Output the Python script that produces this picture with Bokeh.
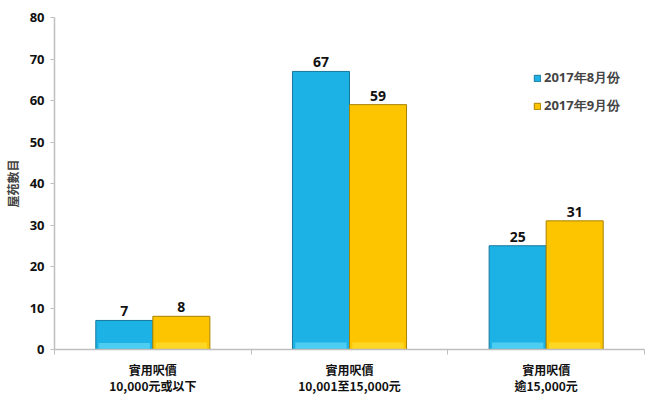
from bokeh.plotting import figure
from bokeh.models import ColumnDataSource, Range1d, FixedTicker, Legend, LegendItem, LabelSet
from bokeh.core.properties import value
from bokeh.embed import file_html
from bokeh.resources import INLINE

categories = ["實用呎價\n10,000元或以下", "實用呎價\n10,001至15,000元", "實用呎價\n逾15,000元"]
series_names = ["2017年8月份", "2017年9月份"]
aug_values = [7, 67, 25]
sep_values = [8, 59, 31]
y_ticks = [0, 10, 20, 30, 40, 50, 60, 70, 80]
y_label = "屋苑數目"

colors = ["#1cb2e6", "#fcc500"]
light = ["#5fd6f6", "#ffdc30"]
edge = ["#17789c", "#a88300"]

p = figure(width=647, height=406, output_backend="svg", toolbar_location=None,
           x_range=Range1d(0, 3), y_range=Range1d(0, 80),
           min_border_left=52, min_border_right=3, min_border_top=17, min_border_bottom=57)
p.outline_line_color = None
p.xgrid.visible = False
p.ygrid.visible = False
p.background_fill_color = "white"

centers = [i + 0.5 for i in range(len(categories))]
offsets = [-0.145, 0.145]
width = 0.29
renderers = []
for k, vals in enumerate([aug_values, sep_values]):
    xs = [c + offsets[k] for c in centers]
    src = ColumnDataSource(dict(x=xs, top=vals, lab=[str(v) for v in vals],
                                lt=[min(1.7, v * 0.22) for v in vals]))
    r = p.vbar(x="x", top="top", width=width, source=src, fill_color=colors[k],
               line_color=edge[k], line_width=1)
    renderers.append(r)
    p.vbar(x="x", top="lt", bottom=0.2, width=width * 0.9, source=src,
           fill_color=light[k], line_color=None, fill_alpha=0.75)
    labels = LabelSet(x="x", y="top", text="lab", source=src, text_align="center",
                      text_baseline="bottom", y_offset=4, text_font=value("Open Sans"),
                      text_font_style="bold", text_font_size="14px", text_color="#111111")
    p.add_layout(labels)

legend = Legend(items=[LegendItem(label=series_names[i], renderers=[renderers[i]]) for i in range(2)],
                location=(479, 234), border_line_color=None, background_fill_alpha=0,
                label_text_font="Open Sans", label_text_font_style="bold", label_text_font_size="13px",
                glyph_width=8, glyph_height=8, spacing=9, label_standoff=3, padding=4)
p.add_layout(legend)

xa = p.xaxis[0]
xa.ticker = FixedTicker(ticks=centers, minor_ticks=[0, 1, 2, 3])
xa.major_label_overrides = {c: categories[i] for i, c in enumerate(centers)}
xa.major_tick_line_color = None
xa.minor_tick_line_color = "#bfbfbf"
xa.minor_tick_out = 5
xa.minor_tick_in = 0
xa.axis_line_color = "#bfbfbf"
xa.axis_line_width = 1.5
xa.major_label_text_font = "Noto Sans CJK TC"
xa.major_label_text_font_style = "bold"
xa.major_label_text_font_size = "12px"
xa.major_label_text_line_height = 0.95
xa.major_label_text_color = "#111111"
xa.major_label_standoff = 5

ya = p.yaxis[0]
ya.ticker = FixedTicker(ticks=y_ticks)
ya.minor_tick_line_color = None
ya.major_tick_line_color = "#bfbfbf"
ya.major_tick_out = 4
ya.major_tick_in = 0
ya.axis_line_color = "#bfbfbf"
ya.axis_line_width = 1.5
ya.major_label_text_font = "Open Sans"
ya.major_label_text_font_style = "bold"
ya.major_label_text_font_size = "13px"
ya.major_label_text_color = "#111111"
ya.major_label_standoff = 6
ya.axis_label = y_label
ya.axis_label_text_font = "Noto Sans CJK TC"
ya.axis_label_text_font_style = "bold"
ya.axis_label_text_font_size = "12px"
ya.axis_label_standoff = 6

open("out.html", "w").write(file_html(p, INLINE))
